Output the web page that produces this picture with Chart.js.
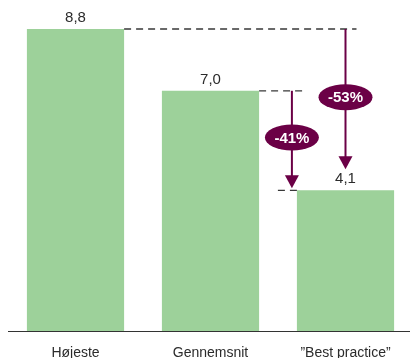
<!DOCTYPE html>
<html>
<head>
<meta charset="utf-8">
<script src="https://cdn.jsdelivr.net/npm/chart.js@4/dist/chart.umd.min.js"></script>
<style>
    html, body { margin: 0; padding: 0; background: #fff; overflow: hidden; }
    #wrap { position: relative; width: 414px; height: 358px; }
</style>
</head>
<body>
<div id="wrap"><canvas id="costChart"></canvas></div>
<script>
// Data
var categories = ['Højeste', 'Gennemsnit', '”Best practice”'];
var values = [8.8, 7.0, 4.1];
// Reductions drawn as arrows: [from index, to index]
var reductions = [[1, 2], [0, 2]];

var BAR_GREEN = '#9dd19a';
var MAROON = '#6b0046';
var TEXT = '#2b2b2b';
var FONT = "'Liberation Sans', Arial, sans-serif";

function fmt(v) {
    return v.toFixed(1).replace('.', ',');
}

// Value labels above the bars
var valueLabels = {
    id: 'valueLabels',
    afterDatasetsDraw: function(chart) {
        var ctx = chart.ctx;
        var meta = chart.getDatasetMeta(0);
        ctx.save();
        ctx.fillStyle = TEXT;
        ctx.font = '15px ' + FONT;
        ctx.textAlign = 'center';
        ctx.textBaseline = 'middle';
        meta.data.forEach(function(bar, i) {
            ctx.fillText(fmt(values[i]), bar.x, bar.y - 11);
        });
        ctx.restore();
    }
};

// Dashed guide lines, arrows and percentage bubbles
var reductionArrows = {
    id: 'reductionArrows',
    afterDatasetsDraw: function(chart) {
        var ctx = chart.ctx;
        var meta = chart.getDatasetMeta(0);
        var y = chart.scales.y;

        function dashed(x1, x2, yy) {
            ctx.save();
            ctx.strokeStyle = '#383838';
            ctx.lineWidth = 1.3;
            ctx.setLineDash([7, 5]);
            ctx.beginPath();
            ctx.moveTo(x1, yy);
            ctx.lineTo(x2, yy);
            ctx.stroke();
            ctx.restore();
        }

        reductions.forEach(function(r, n) {
            var from = meta.data[r[0]];
            var to = meta.data[r[1]];
            var toLeft = to.x - to.width / 2;
            var y0 = y.getPixelForValue(values[r[0]]);
            var y1 = y.getPixelForValue(values[r[1]]);
            // first arrow sits just left of the target bar, second one over its centre
            var ax = n === 0 ? toLeft - 5 : to.x;
            var tip = n === 0 ? y1 - 2 : y1 - 21;

            dashed(from.x + from.width / 2, ax + 11, y0);
            if (n === 0) {
                dashed(ax - 14, toLeft, y1);
            }

            ctx.save();
            ctx.strokeStyle = MAROON;
            ctx.fillStyle = MAROON;
            ctx.lineWidth = 2;
            ctx.beginPath();
            ctx.moveTo(ax, y0);
            ctx.lineTo(ax, tip - 12);
            ctx.stroke();
            ctx.beginPath();
            ctx.moveTo(ax - 7, tip - 13);
            ctx.lineTo(ax + 7, tip - 13);
            ctx.lineTo(ax, tip);
            ctx.closePath();
            ctx.fill();

            var pct = Math.round((values[r[1]] / values[r[0]] - 1) * 100);
            var cy = (y0 + tip) / 2 - 2;
            ctx.beginPath();
            ctx.ellipse(ax, cy, 27, 13, 0, 0, Math.PI * 2);
            ctx.fill();
            ctx.fillStyle = '#fff';
            ctx.font = 'bold 15px ' + FONT;
            ctx.textAlign = 'center';
            ctx.textBaseline = 'middle';
            ctx.fillText(pct + '%', ax, cy + 1);
            ctx.restore();
        });
    }
};

var chart = new Chart(document.getElementById('costChart'), {
    type: 'bar',
    data: {
        labels: categories,
        datasets: [{
            data: values,
            backgroundColor: BAR_GREEN,
            borderWidth: 0,
            barPercentage: 0.72,
            categoryPercentage: 1
        }]
    },
    options: {
        responsive: true,
        maintainAspectRatio: false,
        animation: false,
        layout: { padding: { top: 5, left: 8, right: 1, bottom: 0 } },
        plugins: {
            legend: { display: false },
            tooltip: { enabled: false }
        },
        scales: {
            x: {
                grid: { display: false, drawTicks: false },
                border: { color: '#333', width: 1 },
                ticks: { color: TEXT, font: { family: FONT, size: 14 }, padding: 14 },
                afterFit: function(scale) { scale.height = 27; }
            },
            y: {
                display: false,
                min: 0,
                max: 9.5
            }
        }
    },
    plugins: [valueLabels, reductionArrows]
});
</script>
</body>
</html>
